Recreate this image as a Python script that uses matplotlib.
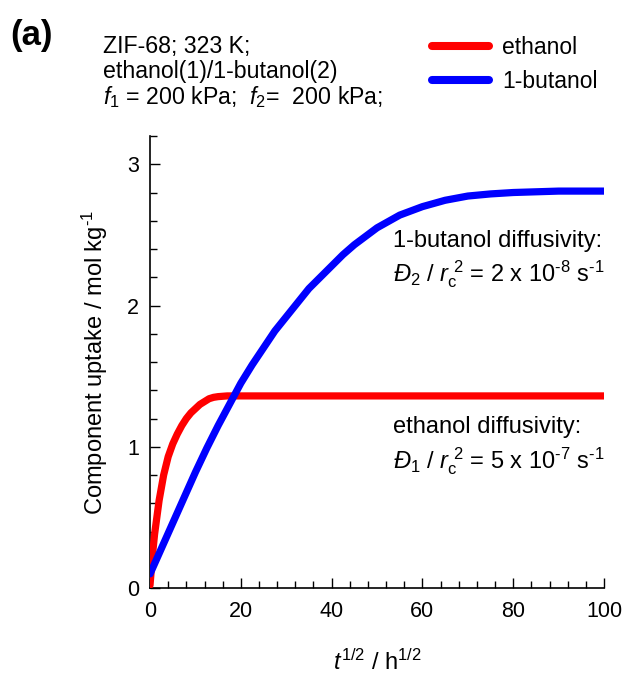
import matplotlib
matplotlib.use('Agg')
import matplotlib.pyplot as plt
from matplotlib.ticker import MultipleLocator

plt.rcParams['font.family'] = ['Liberation Sans', 'DejaVu Sans']
plt.rcParams['mathtext.fontset'] = 'custom'
plt.rcParams['mathtext.rm'] = 'Liberation Sans'
plt.rcParams['mathtext.it'] = 'Liberation Sans:italic'
plt.rcParams['mathtext.bf'] = 'Liberation Sans:bold'

# uptake curves
eth_x = [0, 0.5, 1, 2, 3, 4, 5, 6, 7, 8, 9, 10, 11, 12, 13, 14, 15, 17, 20, 30, 40, 50, 60, 70, 80, 90, 100]
eth_y = [0.02, 0.22, 0.38, 0.62, 0.80, 0.93, 1.02, 1.09, 1.15, 1.20, 1.24, 1.27, 1.30, 1.32, 1.34, 1.35, 1.355, 1.36, 1.36,
         1.36, 1.36, 1.36, 1.36, 1.36, 1.36, 1.36, 1.36]
but_x = [0, 2.5, 5, 7.5, 10, 12.5, 15, 17.5, 20, 22.5, 25, 27.5, 30, 32.5, 35, 37.5, 40, 42.5, 45, 47.5, 50,
         55, 60, 65, 70, 75, 80, 90, 100]
but_y = [0.10, 0.28, 0.46, 0.64, 0.82, 0.99, 1.15, 1.30, 1.45, 1.58, 1.70, 1.82, 1.92, 2.02, 2.12, 2.20, 2.28,
         2.36, 2.43, 2.49, 2.55, 2.64, 2.70, 2.745, 2.775, 2.79, 2.80, 2.81, 2.81]

fig = plt.figure(figsize=(6.28, 6.78), dpi=100)
ax = fig.add_axes([0.2389, 0.1327, 0.7229, 0.6667])

ax.plot(eth_x, eth_y, color='#ff0000', lw=5.2, solid_capstyle='round', solid_joinstyle='round',
        label='ethanol', zorder=3)
ax.plot(but_x, but_y, color='#0000ff', lw=5.2, solid_capstyle='round', solid_joinstyle='round',
        label='1-butanol', zorder=4)

ax.set_xlim(0, 100)
ax.set_ylim(0, 3.2)
ax.xaxis.set_major_locator(MultipleLocator(20))
ax.xaxis.set_minor_locator(MultipleLocator(4))
ax.yaxis.set_major_locator(MultipleLocator(1))
ax.yaxis.set_minor_locator(MultipleLocator(0.2))
for s in ['top', 'right']:
    ax.spines[s].set_visible(False)
for s in ['left', 'bottom']:
    ax.spines[s].set_linewidth(1.2)
ax.tick_params(which='both', direction='in', labelsize=15.5, width=1)
ax.tick_params(which='major', length=7)
ax.tick_params(which='minor', length=5)
ax.tick_params(axis='x', pad=9)
ax.tick_params(axis='y', pad=8)

ax.set_xlabel(r'$t^{1/2}$ / h$^{1/2}$', fontsize=17, labelpad=20)
ax.set_ylabel(r'Component uptake / mol kg$^{\text{-1}}$', fontsize=17, labelpad=12)

fs = 17
ax.text(53.5, 2.46, '1-butanol diffusivity:', fontsize=fs, va='center')
ax.text(53.5, 2.22, r'$\mathit{Đ}_2$ / $\mathit{r}_\mathrm{c}^{\ 2}$ = 2 x 10$^{\text{-8}}$ s$^{\text{-1}}$',
        fontsize=fs, va='center')
ax.text(53.5, 1.14, 'ethanol diffusivity:', fontsize=fs, va='center')
ax.text(53.5, 0.90, r'$\mathit{Đ}_1$ / $\mathit{r}_\mathrm{c}^{\ 2}$ = 5 x 10$^{\text{-7}}$ s$^{\text{-1}}$',
        fontsize=fs, va='center')

fig.text(0.016, 0.948, '(a)', fontsize=25, fontweight='bold', va='center')
fig.text(0.164, 0.932, 'ZIF-68; 323 K;', fontsize=16.7, va='center')
fig.text(0.164, 0.895, 'ethanol(1)/1-butanol(2)', fontsize=16.7, va='center')
fig.text(0.164, 0.857, r'$\mathit{f}_1$ = 200 kPa;  $\mathit{f}_2$=  200 kPa;', fontsize=16.7, va='center')

leg = fig.legend(loc='upper left', bbox_to_anchor=(0.655, 0.977), frameon=False, fontsize=16.5,
                 handlelength=2.5, handletextpad=0.55, labelspacing=0.45)
for line in leg.get_lines():
    line.set_linewidth(5.8)

fig.savefig('out.png', dpi=100)
